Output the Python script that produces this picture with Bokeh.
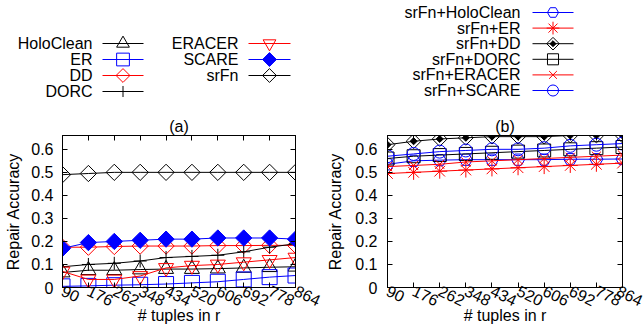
import math
from bokeh.plotting import figure
from bokeh.layouts import row, column
from bokeh.models import FixedTicker, LinearAxis, CustomJSTickFormatter, Range1d
from bokeh.core.properties import value
from bokeh.embed import file_html
from bokeh.resources import INLINE

# ---------------- data ----------------
sizes = [90, 176, 262, 348, 434, 520, 606, 692, 778, 864]
y_ticks = [0, 0.1, 0.2, 0.3, 0.4, 0.5, 0.6]

# (a)
holoclean = [0.065, 0.075, 0.075, 0.078, 0.08, 0.08, 0.082, 0.085, 0.088, 0.09]
er = [0.005, 0.007, 0.01, 0.012, 0.015, 0.02, 0.025, 0.035, 0.045, 0.052]
dd = [0.175, 0.175, 0.178, 0.18, 0.18, 0.18, 0.182, 0.182, 0.183, 0.183]
dorc = [0.09, 0.1, 0.105, 0.115, 0.13, 0.135, 0.14, 0.155, 0.175, 0.19]
eracer = [0.07, 0.035, 0.035, 0.05, 0.085, 0.095, 0.1, 0.11, 0.12, 0.13]
scare = [0.17, 0.195, 0.2, 0.205, 0.21, 0.21, 0.215, 0.215, 0.215, 0.21]
srfn = [0.49, 0.495, 0.5, 0.5, 0.5, 0.5, 0.5, 0.5, 0.5, 0.5]

# (b)
srfn_holoclean = [0.535, 0.55, 0.553, 0.555, 0.555, 0.555, 0.555, 0.557, 0.557, 0.558]
srfn_er = [0.495, 0.5, 0.505, 0.51, 0.515, 0.52, 0.525, 0.53, 0.535, 0.54]
srfn_dd = [0.62, 0.635, 0.645, 0.65, 0.655, 0.655, 0.655, 0.66, 0.66, 0.66]
srfn_dorc = [0.56, 0.57, 0.575, 0.58, 0.585, 0.59, 0.595, 0.6, 0.605, 0.61]
srfn_eracer = [0.525, 0.53, 0.535, 0.545, 0.55, 0.555, 0.56, 0.565, 0.57, 0.575]
srfn_scare = [0.57, 0.58, 0.59, 0.595, 0.6, 0.6, 0.605, 0.615, 0.62, 0.625]

FONT = "Liberation Sans"
FS = "16px"
BLACK, BLUE, RED = "#000000", "#0000ff", "#ff0000"
DIAM = math.pi / 4
TOP_H = 113  # height of the legend strip above the plots


def make_fig(border_left, border_right, lab_std, axlab_std, title):
    p = figure(width=322, height=216, x_range=Range1d(90, 864),
               y_range=Range1d(0, 0.66), output_backend="svg",
               toolbar_location=None, title=title,
               min_border_left=border_left, min_border_right=border_right,
               min_border_top=22, min_border_bottom=42)
    p.title.align = "center"
    p.title.text_font = FONT
    p.title.text_font_size = FS
    p.title.text_font_style = "normal"
    p.title.text_color = BLACK
    p.title.standoff = 2
    p.grid.visible = False
    p.outline_line_color = BLACK
    p.outline_line_width = 1

    for ax in (p.xaxis[0], p.yaxis[0]):
        ax.major_tick_in = 5
        ax.major_tick_out = 0
        ax.minor_tick_line_color = None
        ax.axis_line_color = BLACK
        ax.major_tick_line_color = BLACK
        ax.major_label_text_font = FONT
        ax.major_label_text_font_size = FS
        ax.major_label_text_color = BLACK
        ax.axis_label_text_font = FONT
        ax.axis_label_text_font_size = FS
        ax.axis_label_text_font_style = "normal"
        ax.axis_label_text_color = BLACK

    p.xaxis[0].ticker = FixedTicker(ticks=sizes)
    p.xaxis[0].major_label_orientation = -0.45
    p.xaxis[0].major_label_standoff = 2
    p.xaxis[0].axis_label = "# tuples in r"
    p.xaxis[0].axis_label_standoff = -8

    p.yaxis[0].ticker = FixedTicker(ticks=y_ticks)
    p.yaxis[0].major_label_overrides = {0: "0"}
    p.yaxis[0].major_label_standoff = lab_std
    p.yaxis[0].axis_label = "Repair Accuracy"
    p.yaxis[0].axis_label_standoff = axlab_std

    blank = CustomJSTickFormatter(code="return ''")
    top = LinearAxis(ticker=FixedTicker(ticks=sizes), formatter=blank,
                     major_tick_in=5, major_tick_out=0,
                     minor_tick_line_color=None, major_label_standoff=0,
                     major_label_text_font_size="0px", axis_line_color=BLACK)
    right = LinearAxis(ticker=FixedTicker(ticks=y_ticks), formatter=blank,
                       major_tick_in=5, major_tick_out=0,
                       minor_tick_line_color=None, major_label_standoff=0,
                       major_label_text_font_size="0px", axis_line_color=BLACK)
    p.add_layout(top, "above")
    p.add_layout(right, "right")
    return p


def make_legend_fig():
    q = figure(width=322, height=TOP_H, x_range=Range1d(0, 322),
               y_range=Range1d(TOP_H, 0), x_axis_type=None, y_axis_type=None,
               output_backend="svg", toolbar_location=None,
               min_border=0, outline_line_color=None)
    q.grid.visible = False
    return q


def series(p, ys, color, marker, size, fill=None, angle=0.0, extra=None):
    p.line(sizes, ys, line_color=color, line_width=1)
    p.scatter(sizes, ys, marker=marker, size=size, angle=angle,
              line_color=color, fill_color=fill, line_width=1)
    if extra is not None:
        p.scatter(sizes, ys, marker=extra[0], size=extra[1], angle=extra[2],
                  line_color=color, fill_color=color)


def legend_block(q, entries, text_right, sample_x0, sample_w, y0, pitch):
    """gnuplot-style key: right-aligned label, then a line sample with its marker."""
    for i, (label, color, marker, size, fill, angle, extra) in enumerate(entries):
        y = y0 + i * pitch
        q.text([text_right], [y], text=[label], text_align="right",
               text_baseline="middle", text_font=value(FONT),
               text_font_size=FS, text_color=BLACK)
        q.segment([sample_x0], [y], [sample_x0 + sample_w], [y],
                  line_color=color, line_width=1)
        xm = sample_x0 + sample_w / 2
        q.scatter([xm], [y], marker=marker, size=size * 0.85, angle=angle,
                  line_color=color, fill_color=fill, line_width=1)
        if extra is not None:
            q.scatter([xm], [y], marker=extra[0], size=extra[1] * 0.85,
                      angle=extra[2], line_color=color, fill_color=color)


# ---------------- styles ----------------
style_a = [
    ("HoloClean", holoclean, BLACK, "triangle", 15, None, 0.0, None),
    ("ER", er, BLUE, "square", 15, None, 0.0, None),
    ("DD", dd, RED, "square", 11.5, None, DIAM, None),
    ("DORC", dorc, BLACK, "cross", 13, None, 0.0, None),
    ("ERACER", eracer, RED, "inverted_triangle", 15, None, 0.0, None),
    ("SCARE", scare, BLUE, "square", 11.5, BLUE, DIAM, None),
    ("srFn", srfn, BLACK, "square", 11.5, None, DIAM, None),
]
style_b = [
    ("srFn+HoloClean", srfn_holoclean, BLUE, "hex", 13, None, 0.0, None),
    ("srFn+ER", srfn_er, RED, "asterisk", 15, None, 0.0, None),
    ("srFn+DD", srfn_dd, BLACK, "square", 10.5, None, DIAM, ("square", 5, DIAM)),
    ("srFn+DORC", srfn_dorc, BLACK, "square", 13, None, 0.0, None),
    ("srFn+ERACER", srfn_eracer, RED, "x", 13, None, 0.0, None),
    ("srFn+SCARE", srfn_scare, BLUE, "circle", 13, None, 0.0, None),
]

# ---------------- (a) ----------------
pa = make_fig(62, 27, 9, 6, "(a)")
for (lab, ys, c, m, s, f, a, ex) in style_a:
    series(pa, ys, c, m, s, fill=f, angle=a, extra=ex)
qa = make_legend_fig()
legend_block(qa, [(l, c, m, s, f, a, ex) for (l, ys, c, m, s, f, a, ex) in style_a[:4]],
             92, 102, 41, 43, 16)
legend_block(qa, [(l, c, m, s, f, a, ex) for (l, ys, c, m, s, f, a, ex) in style_a[4:]],
             238, 248, 42, 43, 16)

# ---------------- (b) ----------------
pb = make_fig(65, 22, 10, 8, "(b)")
for (lab, ys, c, m, s, f, a, ex) in style_b:
    series(pb, ys, c, m, s, fill=f, angle=a, extra=ex)
qb = make_legend_fig()
legend_block(qb, [(l, c, m, s, f, a, ex) for (l, ys, c, m, s, f, a, ex) in style_b],
             198, 210, 41, 12, 15.6)

layout = column(row(qa, qb), row(pa, pb))
open("out.html", "w").write(file_html(layout, INLINE))
